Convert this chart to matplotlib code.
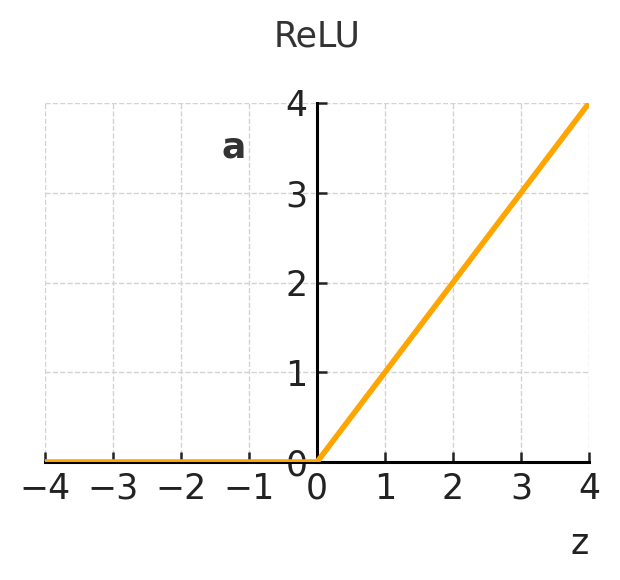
import numpy as np
import matplotlib
matplotlib.use("Agg")
import matplotlib.pyplot as plt

# ReLU: a = max(0, z)
z = np.array([-4, 0, 4])
a = np.maximum(0, z)

xticks = [-4, -3, -2, -1, 0, 1, 2, 3, 4]
yticks = [0, 1, 2, 3, 4]

fig = plt.figure(figsize=(3.1, 2.9), dpi=200)
ax = fig.add_axes([45 / 620, 1 - 462 / 580, 544 / 620, 359 / 580])

ax.plot(z, a, color="orange", lw=2.0, zorder=3)

ax.set_xlim(-4, 4)
ax.set_ylim(0, 4)
ax.set_xticks(xticks)
ax.set_yticks(yticks)

# spines through the origin
ax.spines["left"].set_position(("data", 0))
ax.spines["bottom"].set_position(("data", 0))
ax.spines["top"].set_visible(False)
ax.spines["right"].set_visible(False)
for s in ("left", "bottom"):
    ax.spines[s].set_linewidth(1.1)
    ax.spines[s].set_color("black")

ax.tick_params(direction="in", length=3.5, width=0.9, labelsize=12.5,
               labelcolor="#222222", color="#222222")
ax.grid(True, ls="--", lw=0.5, color="#d3d3d3")

ax.set_title("ReLU", fontsize=12.5, color="#333333", pad=20.5)
ax.set_xlabel("z", fontsize=12.5, color="#222222")
ax.xaxis.set_label_coords(0.983, -0.18)
ax.set_ylabel("a", fontsize=13, fontweight="bold", rotation=0, color="#333333")
ax.yaxis.set_label_coords(0.346, 0.83)

fig.savefig("out.png", dpi=200)
